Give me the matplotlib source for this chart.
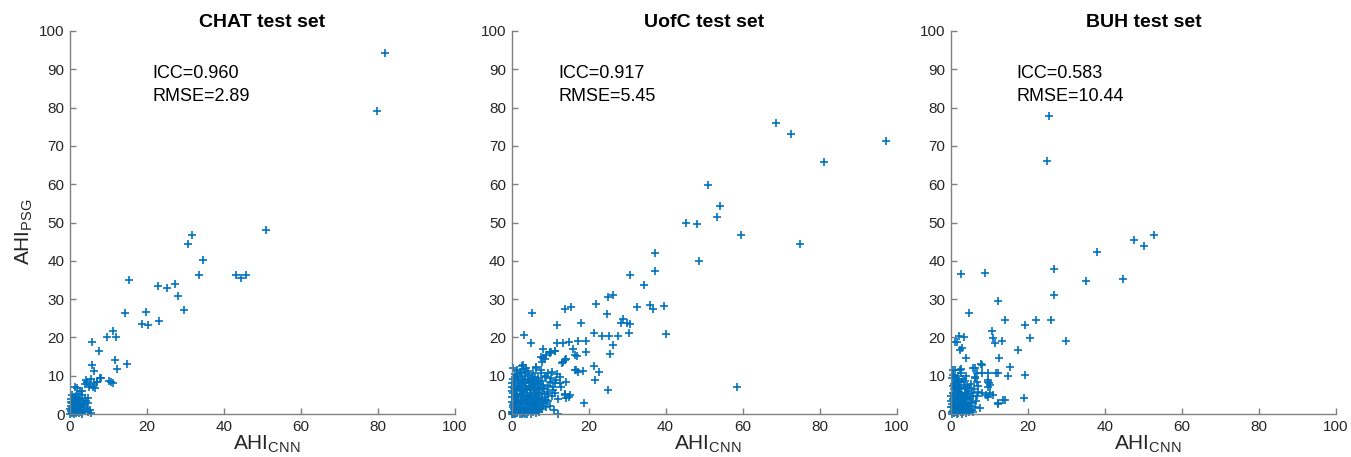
import matplotlib
matplotlib.use("Agg")
import matplotlib.pyplot as plt

# ---------------- data ----------------
titles = ["CHAT test set", "UofC test set", "BUH test set"]
icc_text = ["ICC=0.960", "ICC=0.917", "ICC=0.583"]
rmse_text = ["RMSE=2.89", "RMSE=5.45", "RMSE=10.44"]
text_x = [21.5, 12.3, 16.9]
ticks = [0, 10, 20, 30, 40, 50, 60, 70, 80, 90, 100]
xticks = [0, 20, 40, 60, 80, 100]

chat_pts = [
    (81.8, 94.3), (79.7, 79.0), (50.8, 48.0), (31.6, 46.8), (30.7, 44.5), (34.5, 40.3),
    (33.5, 36.2), (43.0, 36.4), (44.3, 35.4), (45.6, 36.3), (22.9, 33.4), (25.1, 33.0),
    (27.2, 33.9), (28.1, 30.9), (29.5, 27.1), (15.3, 35.0), (14.4, 26.5), (19.7, 26.6),
    (18.7, 23.6), (20.3, 23.2), (23.1, 24.4), (11.1, 21.7), (9.5, 20.0), (11.9, 20.2),
    (5.6, 18.8), (7.5, 16.4), (11.8, 14.2), (14.7, 13.0), (12.3, 11.8), (5.6, 12.7),
    (6.2, 11.3), (10.2, 8.6), (11.1, 8.2), (8.0, 9.5), (7.1, 8.4), (5.5, 9.2), (4.1, 8.9),
    (5.2, 7.5), (5.9, 7.0), (4.8, 4.1), (3.0, 6.1), (1.7, 6.7), (7.9, 9.3), (4.4, 8.4),
    (4.0, 7.8), (4.9, 7.1), (6.2, 8.0), (6.6, 6.7), (10.6, 8.4), (1.4, 7.0), (6.9, 8.4),
    (2.5, 6.0), (2.0, 5.2), (1.5, 4.6), (3.2, 5.0), (3.8, 4.3), (1.2, 3.8), (0.8, 3.0),
    (4.2, 3.5), (4.6, 2.8), (2.6, 3.6), (0.3, 2.2), (0.6, 1.6), (1.0, 2.5), (1.4, 1.8),
    (1.8, 2.9), (2.2, 2.1), (2.8, 2.6), (3.3, 1.9), (0.2, 0.9), (0.5, 0.4), (0.9, 1.1),
    (1.3, 0.6), (1.7, 1.3), (2.1, 0.8), (2.5, 1.4), (2.9, 0.5), (3.4, 1.1), (3.9, 0.7),
    (4.3, 1.5), (4.8, 0.4), (0.1, 0.1), (0.4, 0.2), (1.1, 0.0), (1.6, 0.2), (2.3, 0.3),
    (3.1, 0.1), (0.7, 0.8), (1.9, 1.7), (0.3, 3.2), (2.4, 4.3), (3.6, 2.3), (0.0, 1.4),
    (5.1, 1.0), (5.5, 0.3), (1.2, 1.2), (0.6, 2.8),
    (0.5, 5.0), (1.0, 4.4), (1.5, 3.4), (2.0, 4.0), (0.2, 4.0), (0.9, 0.5), (1.4, 2.6),
    (2.7, 1.9), (3.5, 3.0), (0.4, 1.3), (1.8, 0.6), (2.4, 2.7),
]

uofc_pts = [
    (68.8, 75.9), (72.5, 73.1), (97.2, 71.4), (81.2, 65.9), (51.1, 59.8), (54.1, 54.3),
    (53.5, 51.4), (45.4, 50.0), (48.3, 49.7), (59.7, 46.8), (74.9, 44.5), (48.7, 39.9),
    (37.4, 42.0), (37.3, 37.3), (30.8, 36.2), (34.4, 33.7), (25.1, 30.6), (26.3, 31.1),
    (58.6, 7.0),
    (5.3, 26.5), (14.0, 27.3), (15.4, 27.9), (21.9, 28.7), (32.6, 28.0), (36.0, 28.5),
    (36.7, 27.4), (39.6, 28.1), (24.9, 26.2), (11.7, 23.2), (18.0, 23.8), (28.9, 24.7),
    (28.4, 23.8), (30.0, 23.8), (30.8, 23.4), (3.3, 20.5), (5.1, 18.5), (21.5, 21.1),
    (23.4, 20.4), (25.2, 20.4), (27.7, 20.4), (30.6, 21.1), (40.0, 20.8), (26.4, 18.1),
    (25.6, 15.7), (11.7, 18.6), (13.4, 18.5), (15.0, 18.9), (17.2, 19.1), (19.3, 19.1),
    (8.1, 16.9), (10.0, 16.1), (11.3, 16.5), (15.9, 16.9), (16.5, 15.4), (17.1, 15.2),
    (19.4, 16.3), (7.6, 15.0), (8.7, 14.4), (13.2, 13.4), (14.1, 14.3), (3.1, 11.8),
    (2.2, 10.6), (6.4, 12.4), (16.8, 11.5), (18.7, 11.3), (17.2, 11.0), (21.5, 12.5),
    (22.7, 11.0), (21.7, 8.9), (25.1, 6.3), (14.0, 5.1), (15.0, 4.5), (18.9, 2.8),
    (12.1, 0.0), (9.5, 3.5),
    (10.3, 16.1), (11.2, 16.4), (9.0, 15.4), (8.2, 14.5), (8.0, 13.7), (9.9, 15.8),
    (13.8, 14.1), (13.4, 13.7), (16.4, 11.5), (13.8, 5.0), (14.2, 4.1),
    (3.0, 12.8), (3.8, 11.9), (2.5, 11.0), (3.4, 10.6), (4.3, 10.2), (6.4, 11.9),
    (7.7, 10.6), (6.0, 9.7), (6.9, 9.3), (5.1, 8.4), (9.0, 9.7), (10.3, 9.3), (11.6, 8.9),
    (9.9, 8.4), (11.2, 8.0), (12.5, 8.0), (12.9, 7.1), (8.2, 6.7), (9.5, 5.8), (10.8, 6.3),
    (9.0, 3.7), (6.4, 3.2), (5.6, 1.9), (14.2, 8.4), (15.1, 5.0),
    (0.2, 0.1), (0.5, 0.6), (0.8, 0.2), (1.1, 1.0), (1.4, 0.4), (1.7, 1.5), (2.0, 0.7),
    (2.3, 2.1), (2.6, 1.2), (2.9, 0.3), (3.2, 1.8), (3.5, 0.9), (3.8, 2.6), (4.1, 1.4),
    (4.4, 0.5), (4.7, 2.2), (5.0, 1.1), (5.3, 3.0), (5.6, 0.6), (5.9, 1.9), (6.2, 2.7),
    (6.5, 0.8), (6.8, 3.6), (7.1, 1.6), (7.4, 2.4),
    (0.3, 1.8), (0.6, 2.9), (0.9, 3.8), (1.2, 2.5), (1.5, 4.6), (1.8, 3.3), (2.1, 5.2),
    (2.4, 4.0), (2.7, 6.1), (3.0, 4.8), (3.3, 5.7), (3.6, 3.9), (3.9, 6.6), (4.2, 4.5),
    (4.5, 7.2), (4.8, 5.4), (5.1, 6.3), (5.4, 4.2), (5.7, 7.6), (6.0, 5.0), (6.3, 6.0),
    (6.6, 4.6), (6.9, 7.0), (7.2, 5.5),
    (0.1, 4.4), (0.4, 5.6), (0.7, 6.8), (1.0, 7.7), (1.3, 6.2), (1.6, 8.3), (1.9, 7.1),
    (2.2, 8.8), (2.5, 7.9), (0.2, 8.0), (0.5, 9.1), (0.0, 3.1), (0.1, 6.1), (1.0, 0.0),
    (2.2, 0.1), (3.4, 0.0), (0.6, 1.2), (1.3, 3.0), (2.8, 3.1), (4.0, 3.3), (3.1, 2.7),
    (1.8, 0.9), (2.5, 2.9), (0.9, 4.9), (3.7, 1.1), (4.6, 3.8), (5.2, 2.1), (6.0, 3.3),
    (7.8, 4.0), (8.0, 1.2), (7.5, 6.4), (8.4, 3.0), (9.0, 1.8), (10.0, 2.2), (11.0, 1.0),
    (0.8, 10.5), (1.5, 11.5), (2.6, 12.5), (0.3, 12.0),
    (0.4, 2.4), (0.8, 4.2), (1.2, 5.3), (1.6, 2.0), (2.0, 3.0), (2.4, 1.0), (2.8, 4.6),
    (3.2, 3.4), (3.6, 6.2), (4.0, 5.0), (4.4, 2.8), (4.8, 1.6), (5.2, 4.8), (5.6, 3.6),
    (6.0, 1.4), (6.4, 5.6), (6.8, 2.2), (7.2, 0.4), (7.6, 3.2), (8.0, 5.2), (8.4, 6.6),
    (8.8, 4.4), (0.2, 7.0), (0.6, 8.2), (1.0, 9.6), (1.4, 10.2), (1.8, 9.0), (2.2, 6.4),
    (2.6, 9.6), (3.0, 8.4), (3.4, 9.2), (3.8, 8.0), (4.2, 8.8), (4.6, 9.8), (5.0, 8.6),
    (5.4, 9.4), (5.8, 8.8), (6.2, 7.8), (6.6, 8.4), (7.0, 9.0), (7.4, 7.8), (7.8, 8.6),
    (8.2, 7.6), (0.0, 0.6), (0.3, 0.0), (1.5, 0.2), (2.7, 0.0), (3.9, 0.1), (5.1, 0.0),
    (6.3, 0.2), (0.9, 1.7), (2.1, 1.9), (3.3, 0.6), (4.5, 1.9), (5.7, 2.6), (6.9, 1.1),
    (1.1, 6.6), (2.3, 7.4), (3.5, 7.0), (4.7, 6.8), (5.9, 6.6), (7.1, 4.2), (8.3, 2.0),
    (9.2, 5.2), (9.6, 7.2), (10.4, 4.8), (10.8, 7.0), (11.4, 5.6), (12.0, 4.0),
    (12.6, 9.6), (11.8, 10.4), (10.6, 11.0), (9.4, 10.8), (8.6, 10.0), (7.6, 11.6),
    (5.6, 10.8), (4.4, 11.2), (3.6, 10.0),
]

buh_pts = [
    (25.5, 77.9), (25.0, 66.0), (52.6, 46.7), (47.5, 45.4), (50.0, 43.8), (38.0, 42.4),
    (26.8, 37.9), (35.1, 34.8), (44.7, 35.2), (26.7, 31.0), (12.2, 29.4), (14.0, 24.5),
    (19.3, 23.3), (22.1, 24.5), (26.1, 24.6), (10.6, 21.8), (10.9, 19.8), (11.3, 18.6),
    (13.3, 19.0), (20.6, 19.8), (29.9, 19.0), (17.3, 16.7), (12.4, 14.6), (15.4, 12.2),
    (11.7, 10.6), (14.7, 9.8), (19.1, 10.2),
    (2.6, 36.6), (8.9, 36.9), (4.7, 26.4),
    (2.2, 20.4), (1.6, 18.8), (3.5, 20.2), (2.8, 17.2), (3.9, 14.5), (1.0, 11.5),
    (2.7, 11.7), (6.3, 11.9), (7.7, 13.1), (6.2, 9.5), (6.7, 8.4), (8.0, 10.6),
    (9.7, 10.6), (9.7, 8.9), (9.9, 8.2), (9.7, 7.0), (9.0, 5.0), (9.7, 4.5), (13.9, 3.7),
    (18.9, 4.3), (12.2, 2.5),
    (1.0, 18.9), (2.3, 16.7), (0.6, 11.5), (2.3, 11.5), (1.0, 9.3), (1.5, 8.4),
    (5.8, 11.9), (6.7, 10.6), (8.0, 12.8), (6.2, 9.7), (9.7, 8.4), (10.1, 7.6),
    (12.3, 10.6), (8.0, 5.4), (7.1, 5.8), (7.5, 1.5), (6.2, 1.9), (12.3, 2.8),
    (13.6, 3.7), (10.1, 5.4), (11.0, 5.0),
    (0.2, 0.1), (0.5, 0.8), (0.8, 0.3), (1.1, 1.5), (1.4, 0.6), (1.7, 2.2), (2.0, 1.0),
    (2.3, 2.9), (2.6, 0.4), (2.9, 1.8), (3.2, 3.6), (3.5, 0.9), (3.8, 2.5), (4.1, 1.3),
    (4.4, 3.9), (4.7, 0.5), (5.0, 2.0), (5.3, 1.1),
    (0.3, 2.6), (0.6, 3.8), (0.9, 5.0), (1.2, 3.2), (1.5, 6.1), (1.8, 4.4), (2.1, 7.0),
    (2.4, 5.3), (2.7, 6.4), (3.0, 4.7), (3.3, 7.6), (3.6, 5.6), (3.9, 6.8), (4.2, 5.1),
    (4.5, 6.0), (0.4, 7.3), (0.7, 6.5), (1.0, 8.0), (1.3, 9.0), (2.2, 8.6), (0.1, 4.6),
    (0.0, 1.7), (1.6, 0.0), (2.8, 0.1), (3.4, 2.2), (1.9, 3.5), (0.6, 1.9), (2.5, 1.6),
    (4.0, 0.2), (5.5, 3.1), (5.8, 0.6), (4.9, 4.4),
    (0.4, 5.6), (0.8, 7.8), (1.2, 6.8), (1.6, 5.0), (2.0, 5.8), (2.4, 3.6), (2.8, 5.0),
    (3.2, 2.6), (3.6, 4.2), (4.0, 3.0), (4.4, 2.2), (4.8, 1.4), (5.2, 2.8), (0.2, 9.4),
    (0.6, 10.2), (1.8, 9.8), (2.6, 8.4), (3.0, 9.2), (3.6, 8.6), (4.2, 7.4), (4.8, 6.8),
    (5.4, 5.4), (0.0, 3.4), (0.3, 0.6), (1.0, 0.4), (1.9, 0.3), (3.1, 0.6), (4.3, 0.7),
    (1.3, 2.4), (2.1, 4.0), (2.9, 3.2), (0.7, 4.4), (1.5, 1.2), (2.7, 2.4), (3.7, 1.6),
    (0.9, 2.0), (1.7, 7.6), (2.5, 10.8), (3.9, 9.8), (5.1, 7.8), (5.6, 4.8), (6.4, 3.4),
    (6.0, 6.4), (7.0, 7.2), (6.8, 4.6),
]

datasets = [chat_pts, uofc_pts, buh_pts]

# ---------------- style ----------------
plt.rcParams['font.family'] = ['Liberation Sans', 'DejaVu Sans']
plt.rcParams['mathtext.fontset'] = 'custom'
plt.rcParams['mathtext.rm'] = 'Liberation Sans'
plt.rcParams['mathtext.it'] = 'Liberation Sans:italic'
plt.rcParams['mathtext.bf'] = 'Liberation Sans:bold'

W, H = 1351, 457
fig = plt.figure(figsize=(W / 100, H / 100), dpi=100)
lefts = [70, 511.5, 951]
axw, axh = 385, 383
bottom_px = 414
blue = '#0072BD'
axcol = '#262626'

for i, (pts, left) in enumerate(zip(datasets, lefts)):
    ax = fig.add_axes([left / W, (H - bottom_px) / H, axw / W, axh / H])
    xs = [p[0] for p in pts]
    ys = [p[1] for p in pts]
    ax.plot(xs, ys, linestyle='none', marker='+', color=blue,
            markersize=5.5, markeredgewidth=1.2, clip_on=False)
    ax.set_xlim(0, 100)
    ax.set_ylim(0, 100)
    ax.set_xticks(xticks)
    ax.set_yticks(ticks)
    for s in ['top', 'right']:
        ax.spines[s].set_visible(False)
    for s in ['left', 'bottom']:
        ax.spines[s].set_color('#808080')
        ax.spines[s].set_linewidth(1.0)
    ax.tick_params(direction='in', length=4, width=1.0, color='#808080',
                   labelsize=11, labelcolor=axcol, pad=4)
    ax.set_title(titles[i], fontsize=14, fontweight='bold', pad=3, color='black')
    ax.text(text_x[i], 89, icc_text[i], fontsize=13, va='center', ha='left', color='black')
    ax.text(text_x[i], 83, rmse_text[i], fontsize=13, va='center', ha='left', color='black')
    ax.set_xlabel(r'AHI$_{\mathrm{CNN}}$', fontsize=15, color=axcol)
    ax.xaxis.set_label_coords(0.51, -0.052)
    if i == 0:
        ax.set_ylabel(r'AHI$_{\mathrm{PSG}}$', fontsize=15, color=axcol)
        ax.yaxis.set_label_coords(-0.09, 0.475)

fig.savefig('out.png', dpi=100)
